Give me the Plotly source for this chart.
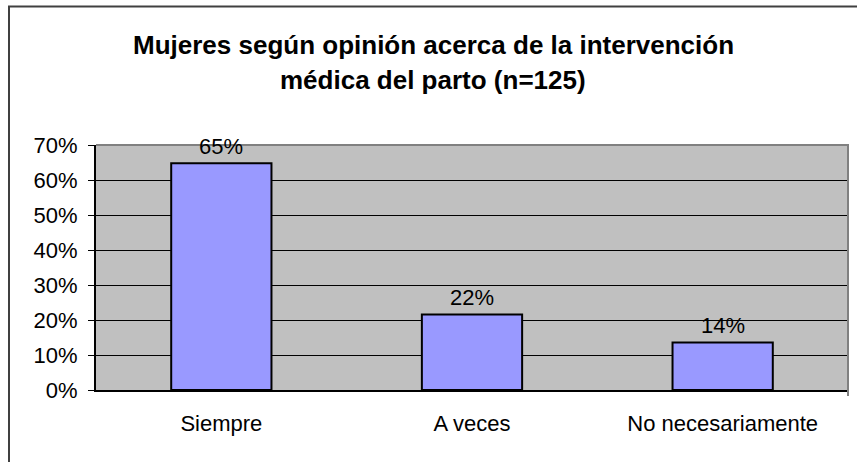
import plotly.graph_objects as go

# data
categories = ["Siempre", "A veces", "No necesariamente"]
counts = [81, 27, 17]
n_total = 125
shares = [c / n_total for c in counts]
labels = [f"{round(s * 100):.0f}%" for s in shares]

title_lines = ["Mujeres según opinión acerca de la intervención",
               "médica del parto (n=125)"]

FONT = "Liberation Sans, Arial, sans-serif"
W, H = 857, 462
L, R, T, B = 96, 848, 145, 390


def px_x(x):
    return (x - L) / (R - L)


def px_y(y):
    return (B - y) / (B - T)


fig = go.Figure()
fig.add_trace(go.Bar(
    x=categories,
    y=shares,
    width=0.4,
    marker=dict(color="#9999FF", line=dict(color="black", width=2)),
    hoverinfo="skip",
))

# data labels above bars
for cat, val, lab in zip(categories, shares, labels):
    fig.add_annotation(x=cat, y=val, text=lab, showarrow=False,
                       yanchor="bottom", yshift=2,
                       font=dict(family=FONT, size=22, color="black"))

# two-line title
for line, ypx in zip(title_lines, [45, 80]):
    fig.add_annotation(xref="paper", yref="paper", x=px_x(433), y=px_y(ypx),
                       text=f"<b>{line}</b>", showarrow=False,
                       xanchor="center", yanchor="middle",
                       font=dict(family=FONT, size=26, color="black"))

# plot-area border (top and right, gray)
fig.add_shape(type="path", xref="paper", yref="paper",
              path=f"M 0,1 L 1,1 L 1,{-6 / (B - T)}",
              line=dict(color="#808080", width=2), layer="above")

# outer chart border
fig.add_shape(type="path", xref="paper", yref="paper",
              path=f"M {px_x(9)},{px_y(470)} L {px_x(9)},{px_y(6.5)} L {px_x(870)},{px_y(6.5)}",
              line=dict(color="#404040", width=2), layer="above")

fig.update_layout(
    width=W, height=H,
    margin=dict(l=L, r=W - R, t=T, b=H - B),
    paper_bgcolor="white",
    plot_bgcolor="#C0C0C0",
    showlegend=False,
    font=dict(family=FONT, size=22, color="black"),
    bargap=0.6,
)
fig.update_yaxes(range=[0, 0.7], dtick=0.1, tickformat=".0%",
                 showgrid=True, gridcolor="black", gridwidth=1,
                 showline=True, linecolor="black", linewidth=2,
                 ticks="outside", ticklen=6, tickcolor="black",
                 ticklabelstandoff=6,
                 zeroline=False, tickfont=dict(size=22))
fig.update_xaxes(showline=True, linecolor="black", linewidth=2,
                 ticks="", ticklabelstandoff=13, tickfont=dict(size=22))

fig.write_html("out.html", config={"displayModeBar": False},
               post_script="document.body.style.margin='0';")
